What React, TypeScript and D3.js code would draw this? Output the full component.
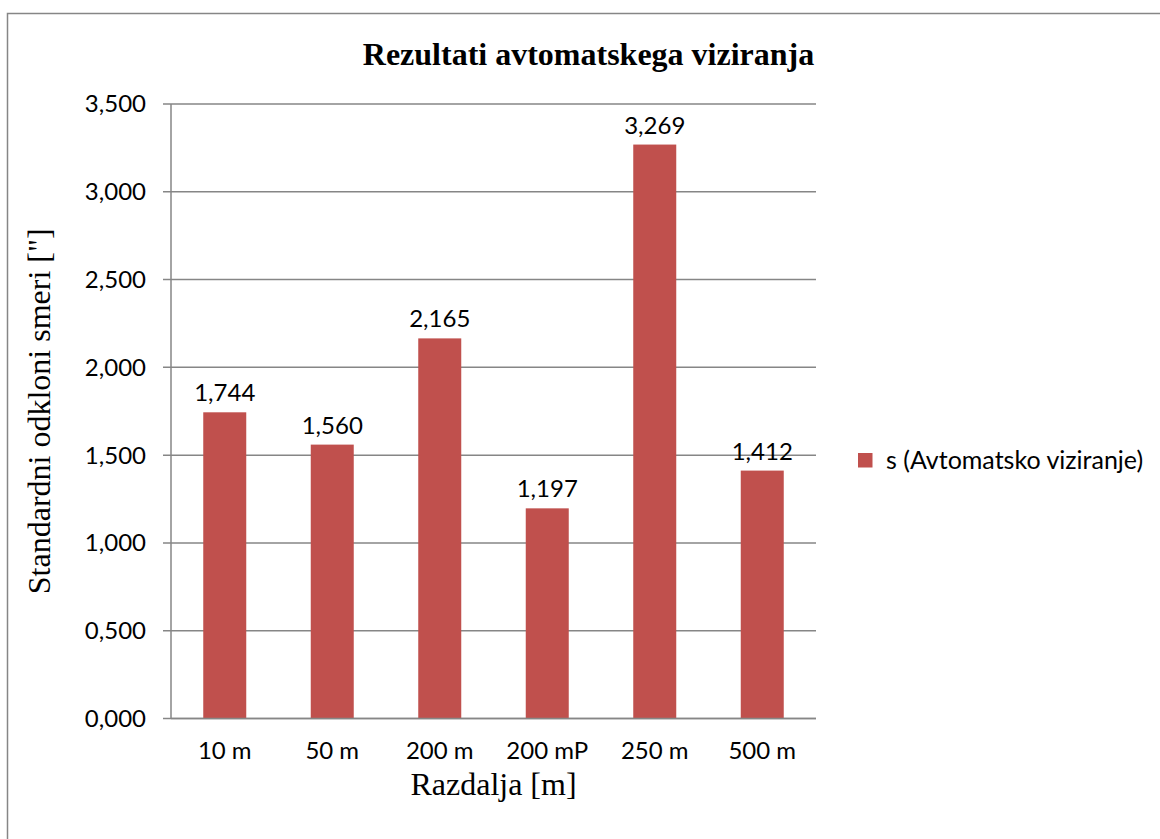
import React from 'react'
import * as d3 from 'd3'

const categories = ['10 m', '50 m', '200 m', '200 mP', '250 m', '500 m']
const values = [1.744, 1.56, 2.165, 1.197, 3.269, 1.412]
const yTicks = [0, 0.5, 1, 1.5, 2, 2.5, 3, 3.5]
const seriesName = 's (Avtomatsko viziranje)'

const width = 1160
const height = 839
const plot = { left: 171, right: 816, top: 104, bottom: 718.5 }

const barColor = '#C0504D'
const lineColor = '#868686'
const sans = 'Lato, "Open Sans", sans-serif'
const serif = '"Liberation Serif", "Times New Roman", serif'

// numbers use a decimal comma
const fmt = (v: number) => d3.format('.3f')(v).replace('.', ',')

export default function App() {
  const x = d3
    .scaleBand<string>()
    .domain(categories)
    .range([plot.left, plot.right])
    .paddingInner(0.6)
    .paddingOuter(0.3)

  const y = d3.scaleLinear().domain([0, 3.5]).range([plot.bottom, plot.top])

  return (
    <svg
      width={width}
      height={height}
      style={{ position: 'absolute', left: 0, top: 0, background: '#fff' }}
    >
      <rect
        x={7.5}
        y={13.5}
        width={1300}
        height={1000}
        fill="#fff"
        stroke={lineColor}
        strokeWidth={1.5}
      />

      {/* title */}
      <text
        x={588.5}
        y={65}
        textAnchor="middle"
        fontFamily={serif}
        fontWeight="bold"
        fontSize={32}
      >
        Rezultati avtomatskega viziranja
      </text>

      {/* gridlines and y ticks */}
      {yTicks.map(t => (
        <g key={t}>
          <line
            x1={plot.left - 8}
            x2={plot.right}
            y1={y(t)}
            y2={y(t)}
            stroke={lineColor}
            strokeWidth={1.5}
          />
          <text
            x={146}
            y={y(t)}
            dy="0.35em"
            textAnchor="end"
            fontFamily={sans}
            fontSize={24}
          >
            {fmt(t)}
          </text>
        </g>
      ))}

      <line
        x1={plot.left}
        x2={plot.left}
        y1={plot.top}
        y2={plot.bottom}
        stroke={lineColor}
        strokeWidth={1.5}
      />

      {/* bars */}
      {categories.map((c, i) => (
        <g key={c}>
          <rect
            x={x(c)}
            y={y(values[i])}
            width={x.bandwidth()}
            height={y(0) - y(values[i])}
            fill={barColor}
          />
          <text
            x={(x(c) as number) + x.bandwidth() / 2}
            y={y(values[i]) - 11}
            textAnchor="middle"
            fontFamily={sans}
            fontSize={24}
          >
            {fmt(values[i])}
          </text>
          <text
            x={(x(c) as number) + x.bandwidth() / 2}
            y={759}
            textAnchor="middle"
            fontFamily={sans}
            fontSize={24}
          >
            {c}
          </text>
        </g>
      ))}

      <line
        x1={plot.left}
        x2={plot.right}
        y1={plot.bottom}
        y2={plot.bottom}
        stroke={lineColor}
        strokeWidth={1.5}
      />

      {/* axis titles */}
      <text
        x={(plot.left + plot.right) / 2}
        y={795}
        textAnchor="middle"
        fontFamily={serif}
        fontSize={32}
      >
        Razdalja [m]
      </text>
      <text
        transform={`translate(50, ${(plot.top + plot.bottom) / 2}) rotate(-90)`}
        textAnchor="middle"
        fontFamily={serif}
        fontSize={32}
      >
        Standardni odkloni smeri ["]
      </text>

      {/* legend */}
      <rect x={858} y={453} width={14.5} height={14.5} fill={barColor} />
      <text x={886} y={468.5} fontFamily={sans} fontSize={25}>
        {seriesName}
      </text>
    </svg>
  )
}
